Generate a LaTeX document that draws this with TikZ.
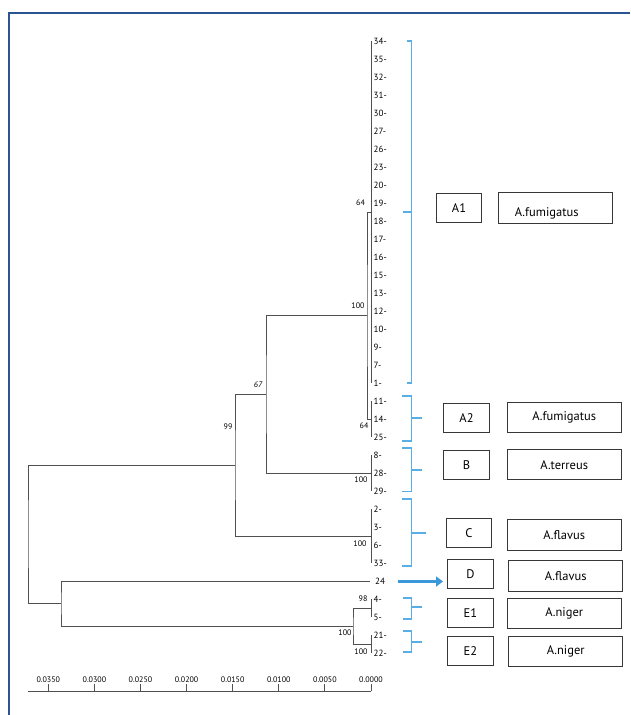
\documentclass[tikz,border=0pt]{standalone}
\usepackage{fontspec}
\setmainfont{PT Sans}
\usetikzlibrary{arrows.meta}
\definecolor{treegray}{HTML}{505050}
\definecolor{brblue}{HTML}{5AAEE6}
\definecolor{arrblue}{HTML}{3A98D8}
\definecolor{framebl}{HTML}{2A5590}
\definecolor{boxgray}{HTML}{383838}
\begin{document}
\begin{tikzpicture}[x=1pt,y=-1pt,
  tree/.style={draw=treegray,line width=0.9pt},
  bracket/.style={draw=brblue,line width=1.2pt},
  leaflab/.style={anchor=west,inner sep=0pt,font=\fontsize{9}{10}\selectfont,text=black},
  boot/.style={inner sep=0pt,font=\fontsize{8}{9}\selectfont,text=black},
  axlab/.style={inner sep=0pt,font=\fontsize{8}{9}\selectfont,text=black},
  gbox/.style={draw=boxgray,line width=1pt,minimum width=45.6pt,minimum height=28.8pt,inner sep=0pt,font=\fontsize{12.5}{13}\selectfont},
  sbox/.style={draw=boxgray,line width=1pt,minimum width=113.6pt,minimum height=30.4pt,inner sep=0pt,font=\fontsize{12.5}{13}\selectfont},
  frameline/.style={draw=framebl,line width=1.6pt}]
\useasboundingbox (0,0) rectangle (630,715);
\fill[white] (0,0) rectangle (630,715);
\draw[frameline] (9,715) -- (9,13) -- (630,13);

% leaves
\foreach \lab [count=\i from 0] in {34,35,32,31,30,27,26,23,20,19,18,17,16,15,13,12,10,9,7,1,11,14,25,8,28,29,2,3,6,33,24,4,5,21,22}{
  \coordinate (L\lab) at (371,41+18*\i);
}
\foreach \lab in {34,35,32,31,30,27,26,23,20,19,18,17,16,15,13,12,10,9,7,1,11,14,25,8,28,29,2,3,6,33,4,5,21,22}{
  \node[leaflab] (T\lab) at ([xshift=2.5pt]L\lab) {\lab-};
}
\node[leaflab] (T24) at ([xshift=4pt]L24) {24};

% internal nodes
\coordinate (a1) at (371,212);
\coordinate (a2) at (371,419);
\coordinate (nA) at (367,315.5);
\coordinate (b) at (371,473);
\coordinate (n67) at (266,394);
\coordinate (c) at (371,536);
\coordinate (n99) at (235,465);
\coordinate (e1) at (371,608);
\coordinate (e2) at (371,644);
\coordinate (nE) at (353,626);
\coordinate (nDE) at (61,603);
\coordinate (root) at (28,534);

% cluster verticals
\draw[tree] (L34) -- (L1);
\draw[tree] (L11) -- (L25);
\draw[tree] (L8) -- (L29);
\draw[tree] (L2) -- (L33);
\draw[tree] (L4) -- (L5);
\draw[tree] (L21) -- (L22);
% elbows
\draw[tree] (a1) -| (nA) |- (a2);
\draw[tree] (nA) -| (n67) |- (b);
\draw[tree] (n67) -| (n99) |- (c);
\draw[tree] (e1) -| (nE) |- (e2);
\draw[tree] ([xshift=-1pt]L24) -| (nDE) |- (nE);
\draw[tree] (n99) -| (root) |- (nDE);

% bootstrap values
\node[boot] (b1) at (360.5,202.5) {64};
\node[boot] (b2) at (358,306) {100};
\node[boot] (b3) at (364,426) {64};
\node[boot] (b4) at (361,480) {100};
\node[boot] (b5) at (360,544) {100};
\node[boot] (b6) at (258,385) {\itshape 67};
\node[boot] (b7) at (228,427) {99};
\node[boot] (b8) at (363,599) {98};
\node[boot] (b9) at (345,633) {100};
\node[boot] (b10) at (361,652) {100};

% brackets
\draw[bracket] (407,41) -- (411.5,41) -- (411.5,383) -- (407,383);
\draw[bracket] (403,212) -- (411.5,212);
\draw[bracket] (402,396) -- (411.5,396) -- (411.5,441) -- (402,441);
\draw[bracket] (411.5,418) -- (421.5,418);
\draw[bracket] (402,448) -- (411.5,448) -- (411.5,491.5) -- (402,491.5);
\draw[bracket] (411.5,470) -- (421.5,470);
\draw[bracket] (402,499) -- (411.5,499) -- (411.5,566) -- (402,566);
\draw[bracket] (411.5,533) -- (426,533);
\draw[bracket] (403,598) -- (411.5,598) -- (411.5,619) -- (403,619);
\draw[bracket] (411.5,607) -- (421.5,607);
\draw[bracket] (403,631) -- (411.5,631) -- (411.5,652) -- (403,652);
\draw[bracket] (411.5,642) -- (421.5,642);

% group boxes
\node[gbox] (gA1) at (459,208) {A1};
\node[sbox,minimum width=113.7pt,minimum height=30.6pt] (sA1) at (555.2,208) {};
\node[inner sep=0pt,font=\fontsize{12.5}{13}\selectfont] (sA1t) at (546.7,213) {A.fumigatus};
\node[gbox] (gA2) at (466.5,417.8) {A2};
\node[sbox] (sA2) at (564.2,417.5) {A.fumigatus};
\node[gbox] (gB) at (466.5,465) {B};
\node[sbox] (sB) at (564.2,464.7) {A.terreus};
\node[gbox] (gC) at (469,533.3) {C};
\node[sbox] (sC) at (564.2,535) {A.flavus};
\node[gbox] (gD) at (470.5,574.2) {D};
\node[sbox] (sD) at (565.7,576) {A.flavus};
\node[gbox] (gE1) at (470.5,613.3) {E1};
\node[sbox] (sE1) at (564.2,613.3) {A.niger};
\node[gbox] (gE2) at (470.5,651.2) {E2};
\node[sbox] (sE2) at (565.7,651.3) {A.niger};

% arrow to D
\coordinate (arrS) at (398,581.5);
\coordinate (arrE) at (443,581.5);
\draw[draw=arrblue,line width=3pt,-{Triangle[length=7pt,width=10pt]}] (arrS) -- (arrE);

% axis
\coordinate (ax0) at (28,691);
\coordinate (ax1) at (371,691);
\draw[tree] (ax0) -- (ax1);
\foreach \v/\t in {0/0.0000,1/0.0050,2/0.0100,3/0.0150,4/0.0200,5/0.0250,6/0.0300,7/0.0350}{
  \coordinate (tk\v) at (371-46.1*\v,691);
  \draw[tree] (tk\v) -- ++(0,-7);
  \node[axlab] (tl\v) at ([yshift=11pt]tk\v) {\t};
}
\end{tikzpicture}
\end{document}
